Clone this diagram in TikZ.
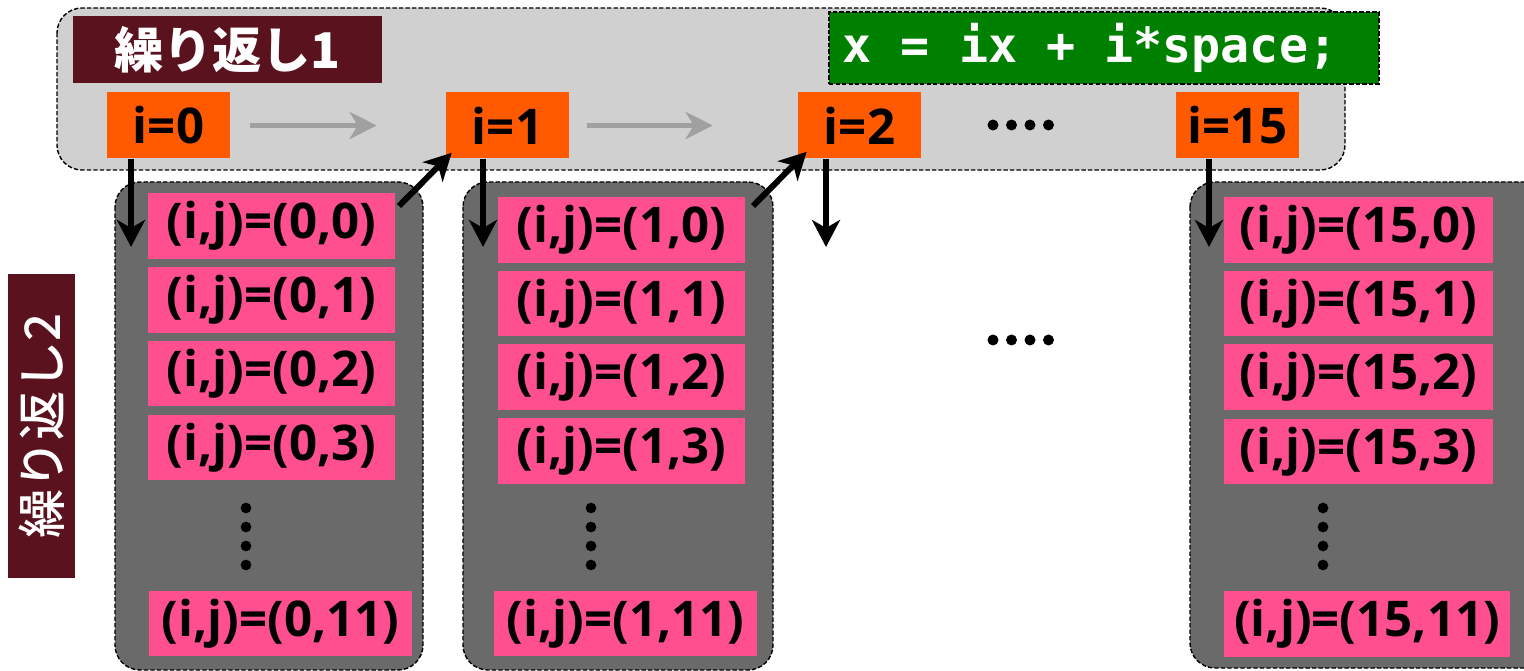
\documentclass[tikz,border=0pt]{standalone}
\usepackage{fontspec}
\setmainfont{Open Sans}
\setmonofont{DejaVu Sans Mono}
\newfontfamily\jpfont{Noto Sans CJK JP}
\newfontfamily\jpmed{Noto Sans CJK JP Medium}
\usetikzlibrary{arrows.meta}

\definecolor{panelgray}{RGB}{208,208,208}
\definecolor{colgray}{RGB}{106,106,106}
\definecolor{loopred}{RGB}{91,18,31}
\definecolor{codegreen}{RGB}{0,128,0}
\definecolor{iorange}{RGB}{255,90,0}
\definecolor{ijpink}{RGB}{255,79,143}
\definecolor{arrgray}{RGB}{160,160,160}

\tikzset{
  frame/.style={draw=black, line width=0.8pt, dash pattern=on 2.5pt off 1.2pt},
  big/.style={font=\fontsize{28}{30}\selectfont\bfseries},
  loopbox/.style={fill=loopred, text=white, minimum width=6.18cm, minimum height=1.34cm,
    inner sep=0pt, font=\fontsize{28}{30}\selectfont\jpfont\bfseries},
  ibox/.style={big, fill=iorange, minimum width=2.46cm, minimum height=1.32cm, inner sep=0pt},
  ijbox/.style={big, fill=ijpink, minimum width=#1, minimum height=1.32cm, inner sep=0pt},
  blk/.style={-{Stealth[length=0.54cm,width=0.56cm,inset=0.16cm]}, line width=3.4pt},
  gry/.style={-{Stealth[length=0.54cm,width=0.54cm,inset=0.16cm]}, line width=3.4pt, draw=arrgray}
}

\begin{document}
\begin{tikzpicture}[x=0.02cm,y=-0.02cm]
\useasboundingbox (0,0) rectangle (1524,671);
%\draw[help lines,step=50] (0,0) grid (1524,671);
% loop 1 panel
\draw[frame, fill=panelgray, rounded corners=0.5cm] (57,8) rectangle (1345,170);
\node[loopbox] (loop1) at (227.5,49.5) {繰り返し1};
\node[frame, fill=codegreen, text=white, minimum width=11cm, minimum height=1.44cm,
  inner sep=0pt, font=\fontsize{27.5}{30}\selectfont\ttfamily\bfseries] (code) at (1104,48)
  {x = ix + i*space;\kern0.56cm};
\node[ibox] (i0) at (168.5,125.5) {i=0};
\node[ibox] (i1) at (507.5,125.5) {i=1};
\node[ibox] (i2) at (859.5,125.5) {i=2};
\node[ibox] (i15) at (1237.5,125.5) {i=15};
\draw[gry, shorten <=0.4cm, shorten >=1.38cm] (i0) -- (i1);
\draw[gry, shorten <=0.36cm, shorten >=1.7cm] (i1) -- (i2);
\foreach \x in {993,1011.5,1030,1048.5} {
  \fill (\x,125) circle[radius=0.11cm];
  \fill (\x,340) circle[radius=0.11cm];
}
% loop 2
\node[loopbox, rotate=90, minimum width=6.08cm, font=\fontsize{28}{30}\selectfont\jpmed] (loop2) at (41.5,426) {繰り返し2};
\draw[frame, fill=colgray, rounded corners=0.5cm] (115,182) rectangle (423,670);
\draw[frame, fill=colgray, rounded corners=0.5cm] (463,182) rectangle (773,670);
\draw[frame, fill=colgray, rounded corners=0.5cm] (1190,182) rectangle (1560,668);
\foreach \j/\y in {0/226,1/300,2/373.5,3/447.5}
  \node[ijbox=4.94cm] (a\j) at (271.5,\y) {(i,j)=(0,\j)};
\foreach \j/\y in {0/230,1/303.5,2/377,3/451}
  \node[ijbox=4.94cm] (b\j) at (621.5,\y) {(i,j)=(1,\j)};
\foreach \j/\y in {0/230,1/303.5,2/377,3/451.5}
  \node[ijbox=5.38cm] (c\j) at (1358.5,\y) {(i,j)=(15,\j)};
\node[ijbox=5.26cm] (a11) at (280.5,623.5) {(i,j)=(0,11)};
\node[ijbox=5.26cm] (b11) at (625.5,623.5) {(i,j)=(1,11)};
\node[ijbox=5.72cm] (c11) at (1367,624) {(i,j)=(15,11)};
\foreach \y in {508,527,546,565} {
  \fill (246,\y) circle[radius=0.107cm];
  \fill (591,\y) circle[radius=0.107cm];
  \fill (1323,\y) circle[radius=0.107cm];
}
% arrows
\coordinate (d0) at (131,247);
\coordinate (d1) at (483,247);
\coordinate (d2) at (826,247);
\coordinate (d15) at (1209,247);
\coordinate (s0) at (399,206);
\coordinate (s1) at (753,206);
\draw[blk] (i0.south -| d0) -- (d0);
\draw[blk] (i1.south -| d1) -- (d1);
\draw[blk] (i2.south -| d2) -- (d2);
\draw[blk] (i15.south -| d15) -- (d15);
\draw[blk] (s0) -- ([shift={(6,-6)}]i1.south west);
\draw[blk] (s1) -- ([shift={(9,-7)}]i2.south west);
\end{tikzpicture}
\end{document}
